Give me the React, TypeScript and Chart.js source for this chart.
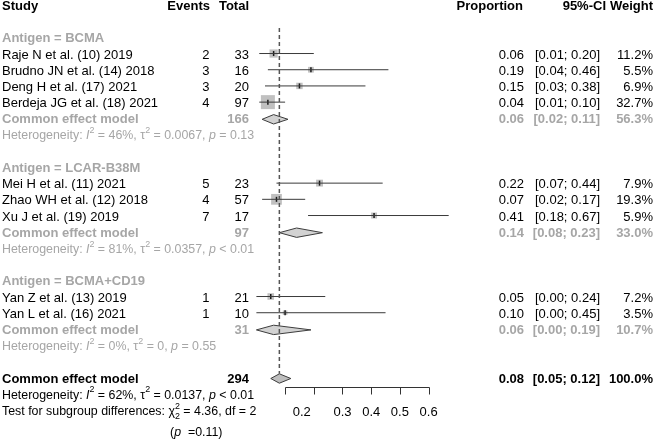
import React, { useEffect, useRef } from "react";
import { Chart, registerables } from "chart.js";

Chart.register(...registerables);

// ---------------- data ----------------
const studies = [
  "Raje N et al. (10) 2019",
  "Brudno JN et al. (14) 2018",
  "Deng H et al. (17) 2021",
  "Berdeja JG et al. (18) 2021",
  "Mei H et al. (11) 2021",
  "Zhao WH et al. (12) 2018",
  "Xu J et al. (19) 2019",
  "Yan Z et al. (13) 2019",
  "Yan L et al. (16) 2021",
];
const studyGroup = [0, 0, 0, 0, 1, 1, 1, 2, 2];
const events = [2, 3, 3, 4, 5, 4, 7, 1, 1];
const totals = [33, 16, 20, 97, 23, 57, 17, 21, 10];
const proportions = [0.06, 0.19, 0.15, 0.04, 0.22, 0.07, 0.41, 0.05, 0.1];
const ciLower = [0.01, 0.04, 0.03, 0.01, 0.07, 0.02, 0.18, 0.0, 0.0];
const ciUpper = [0.2, 0.46, 0.38, 0.1, 0.44, 0.17, 0.67, 0.24, 0.45];
const weights = [11.2, 5.5, 6.9, 32.7, 7.9, 19.3, 5.9, 7.2, 3.5];

const groupLabels = ["Antigen = BCMA", "Antigen = LCAR-B38M", "Antigen = BCMA+CD19"];
const groupTotals = [166, 97, 31];
const groupProp = [0.06, 0.14, 0.06];
const groupLower = [0.02, 0.08, 0.0];
const groupUpper = [0.11, 0.23, 0.19];
const groupWeight = [56.3, 33.0, 10.7];
const groupI2 = ["46%", "81%", "0%"];
const groupTau2 = ["0.0067", "0.0357", "0"];
const groupP = ["= 0.13", "< 0.01", "= 0.55"];

const overallTotal = 294;
const overallProp = 0.08;
const overallLower = 0.05;
const overallUpper = 0.12;
const overallWeight = 100.0;
const overallI2 = "62%";
const overallTau2 = "0.0137";
const overallP = "< 0.01";
const subgroupChi2 = "4.36";
const subgroupDf = "2";
const subgroupP = "0.11";

const axisTicks = [0.1, 0.2, 0.3, 0.4, 0.5, 0.6];
const axisLabels = ["0.2", "0.3", "0.4", "0.5", "0.6"];
const axisLabelValues = [0.158, 0.3, 0.4, 0.5, 0.6];

// ---------------- layout ----------------
const W = 655;
const H = 441;
const ROW_H = 16.2;
const ROW0 = 5.9;
const PX_PER_UNIT = 287;
const X_ZERO = 256.4;

const FONT = '"Liberation Sans", Arial, Helvetica, sans-serif';
const BLACK = "#000000";
const GRAY = "#a6a6a6";

// rows
const studyRow: number[] = [];
const groupRow: number[] = [];
const groupCommonRow: number[] = [];
const groupHetRow: number[] = [];
let r = 2;
for (let g = 0; g < groupLabels.length; g++) {
  groupRow[g] = r++;
  for (let i = 0; i < studies.length; i++) {
    if (studyGroup[i] === g) studyRow[i] = r++;
  }
  groupCommonRow[g] = r++;
  groupHetRow[g] = r++;
  r++;
}
const overallRow = r;
const overallHetRow = r + 1;
const testRow = r + 2;
const testPRow = r + 3.3;
const axisRow = r + 0.5;
const DIAMOND_HALF = 0.29;

const f2 = (v: number) => v.toFixed(2);
const ci = (lo: number, hi: number) => `[${f2(lo)}; ${f2(hi)}]`;
const pct = (w: number) => `${w.toFixed(1)}%`;

type Seg = { t: string; i?: boolean; b?: boolean; sup?: boolean; sub?: boolean; noAdv?: boolean };

function hetSegs(i2: string, tau2: string, p: string): Seg[] {
  return [
    { t: "Heterogeneity: " },
    { t: "I", i: true },
    { t: "2", sup: true },
    { t: ` = ${i2}, ` },
    { t: "\u03C4" },
    { t: "2", sup: true },
    { t: ` = ${tau2}, ` },
    { t: "p", i: true },
    { t: ` ${p}` },
  ];
}

function drawRich(ctx: CanvasRenderingContext2D, segs: Seg[], x: number, y: number, size: number, color: string) {
  let cx = x;
  ctx.fillStyle = color;
  ctx.textAlign = "left";
  ctx.textBaseline = "middle";
  for (const s of segs) {
    const small = s.sup || s.sub;
    const fs = small ? size * 0.72 : size;
    ctx.font = `${s.i ? "italic " : ""}${s.b ? "bold " : ""}${fs}px ${FONT}`;
    const dy = s.sup ? -size * 0.42 : s.sub ? size * 0.38 : 0;
    ctx.fillText(s.t, cx, y + dy);
    if (!s.noAdv) cx += ctx.measureText(s.t).width;
  }
}

function text(
  ctx: CanvasRenderingContext2D,
  s: string,
  x: number,
  y: number,
  align: CanvasTextAlign,
  bold: boolean,
  color: string,
  size = 13
) {
  ctx.font = `${bold ? "bold " : ""}${size}px ${FONT}`;
  ctx.fillStyle = color;
  ctx.textAlign = align;
  ctx.textBaseline = "middle";
  ctx.fillText(s, x, y);
}

const COL_STUDY = 2;
const COL_EVENTS = 209.5;
const COL_TOTAL = 249;
const COL_PROP = 524;
const COL_CI = 600;
const COL_CI_HEAD = 606;
const COL_W = 653;

const forestPlugin = {
  id: "forestText",
  afterDatasetsDraw(chart: any) {
    const ctx: CanvasRenderingContext2D = chart.ctx;
    const xs = chart.scales.x;
    const ys = chart.scales.y;
    const Y = (row: number) => ys.getPixelForValue(row) + 0.5;
    ctx.save();

    // header
    const hy = Y(0);
    text(ctx, "Study", COL_STUDY, hy, "left", true, BLACK);
    text(ctx, "Events", COL_EVENTS + 0.5, hy, "right", true, BLACK);
    text(ctx, "Total", COL_TOTAL, hy, "right", true, BLACK);
    text(ctx, "Proportion", COL_PROP - 1, hy, "right", true, BLACK);
    text(ctx, "95%-CI", COL_CI_HEAD, hy, "right", true, BLACK);
    text(ctx, "Weight", COL_W, hy, "right", true, BLACK);

    // groups
    for (let g = 0; g < groupLabels.length; g++) {
      text(ctx, groupLabels[g], COL_STUDY, Y(groupRow[g]), "left", true, GRAY);
      const cy = Y(groupCommonRow[g]);
      text(ctx, "Common effect model", COL_STUDY, cy, "left", true, GRAY);
      text(ctx, String(groupTotals[g]), COL_TOTAL, cy, "right", true, GRAY);
      text(ctx, f2(groupProp[g]), COL_PROP, cy, "right", true, GRAY);
      text(ctx, ci(groupLower[g], groupUpper[g]), COL_CI, cy, "right", true, GRAY);
      text(ctx, pct(groupWeight[g]), COL_W, cy, "right", true, GRAY);
      drawRich(ctx, hetSegs(groupI2[g], groupTau2[g], groupP[g]), COL_STUDY, Y(groupHetRow[g]), 12.4, GRAY);
    }

    // studies
    for (let i = 0; i < studies.length; i++) {
      const y = Y(studyRow[i]);
      text(ctx, studies[i], COL_STUDY, y, "left", false, BLACK);
      text(ctx, String(events[i]), COL_EVENTS, y, "right", false, BLACK);
      text(ctx, String(totals[i]), COL_TOTAL, y, "right", false, BLACK);
      text(ctx, f2(proportions[i]), COL_PROP, y, "right", false, BLACK);
      text(ctx, ci(ciLower[i], ciUpper[i]), COL_CI, y, "right", false, BLACK);
      text(ctx, pct(weights[i]), COL_W, y, "right", false, BLACK);
    }

    // overall
    const oy = Y(overallRow);
    text(ctx, "Common effect model", COL_STUDY, oy, "left", true, BLACK);
    text(ctx, String(overallTotal), COL_TOTAL, oy, "right", true, BLACK);
    text(ctx, f2(overallProp), COL_PROP, oy, "right", true, BLACK);
    text(ctx, ci(overallLower, overallUpper), COL_CI, oy, "right", true, BLACK);
    text(ctx, pct(overallWeight), COL_W, oy, "right", true, BLACK);
    drawRich(ctx, hetSegs(overallI2, overallTau2, overallP), COL_STUDY, Y(overallHetRow), 12.4, BLACK);
    drawRich(
      ctx,
      [
        { t: "Test for subgroup differences: " },
        { t: "\u03C7" },
        { t: subgroupDf, sub: true, noAdv: true },
        { t: "2", sup: true },
        { t: ` = ${subgroupChi2}, df = ${subgroupDf}` },
      ],
      COL_STUDY,
      Y(testRow),
      12.4,
      BLACK
    );
    drawRich(
      ctx,
      [{ t: "(" }, { t: "p", i: true }, { t: `  =${subgroupP})` }],
      170,
      Y(testPRow),
      12.4,
      BLACK
    );

    // x axis
    const ay = ys.getPixelForValue(axisRow);
    ctx.strokeStyle = "#333333";
    ctx.lineWidth = 1;
    ctx.beginPath();
    const x0 = Math.round(xs.getPixelForValue(axisTicks[0])) + 0.5;
    const x1 = Math.round(xs.getPixelForValue(axisTicks[axisTicks.length - 1])) + 0.5;
    const ayr = Math.round(ay) + 0.5;
    ctx.moveTo(x0, ayr);
    ctx.lineTo(x1, ayr);
    for (const t of axisTicks) {
      const tx = Math.round(xs.getPixelForValue(t)) + 0.5;
      ctx.moveTo(tx, ayr);
      ctx.lineTo(tx, ayr + 7);
    }
    ctx.stroke();
    for (let k = 0; k < axisLabels.length; k++) {
      text(ctx, axisLabels[k], xs.getPixelForValue(axisLabelValues[k]), ay + 26, "center", false, BLACK, 13);
    }
    ctx.restore();
  },
};

function diamond(est: number, lo: number, hi: number, row: number) {
  return [
    { x: lo, y: row },
    { x: est, y: row - DIAMOND_HALF },
    { x: hi, y: row },
    { x: est, y: row + DIAMOND_HALF },
    { x: lo, y: row },
  ];
}

export default function App() {
  const ref = useRef<HTMLCanvasElement | null>(null);
  useEffect(() => {
    document.body.style.margin = "0";
    const canvas = ref.current;
    if (!canvas) return;
    const datasets: any[] = [];

    // reference line (dashed)
    datasets.push({
      type: "line",
      data: [
        { x: overallProp, y: 1.36 },
        { x: overallProp, y: overallRow - DIAMOND_HALF },
      ],
      borderColor: "#555555",
      borderWidth: 1.5,
      borderDash: [4, 3],
      pointRadius: 0,
      fill: false,
      order: 0,
    });

    // diamonds
    for (let g = 0; g < groupLabels.length; g++) {
      datasets.push({
        type: "line",
        data: diamond(groupProp[g], groupLower[g], groupUpper[g], groupCommonRow[g]),
        borderColor: "#3c3c3c",
        backgroundColor: "#d2d2d2",
        borderWidth: 1,
        pointRadius: 0,
        fill: "shape",
        order: 1,
      });
    }
    datasets.push({
      type: "line",
      data: diamond(overallProp, overallLower, overallUpper, overallRow),
      borderColor: "#3c3c3c",
      backgroundColor: "#bebebe",
      borderWidth: 1,
      pointRadius: 0,
      fill: "shape",
      order: 1,
    });

    // CI lines
    for (let i = 0; i < studies.length; i++) {
      datasets.push({
        type: "line",
        data: [
          { x: ciLower[i], y: studyRow[i] - 0.06 },
          { x: ciUpper[i], y: studyRow[i] - 0.06 },
        ],
        borderColor: "#3a3a3a",
        borderWidth: 1,
        pointRadius: 0,
        fill: false,
        order: 2,
      });
    }

    // estimate tick
    datasets.push({
      type: "scatter",
      data: proportions.map((p, i) => ({ x: p, y: studyRow[i] - 0.06 })),
      pointStyle: "line",
      pointRotation: 90,
      pointRadius: 2.5,
      pointBorderColor: "#1a1a1a",
      pointBorderWidth: 1.5,
      order: 3,
    });

    // weight squares
    datasets.push({
      type: "scatter",
      data: proportions.map((p, i) => ({ x: p, y: studyRow[i] - 0.06 })),
      pointStyle: "rect",
      pointRadius: weights.map((w) => (2.45 * Math.sqrt(w)) / Math.SQRT2),
      pointBackgroundColor: "#c0c0c0",
      pointBorderWidth: 0,
      pointBorderColor: "rgba(0,0,0,0)",
      order: 4,
    });

    const yMin = -ROW0 / ROW_H;
    const yMax = yMin + H / ROW_H;
    const xMin = -X_ZERO / PX_PER_UNIT;
    const xMax = (W - X_ZERO) / PX_PER_UNIT;

    const chart = new Chart(canvas, {
      type: "scatter",
      data: { datasets },
      options: {
        animation: false,
        responsive: false,
        devicePixelRatio: 1,
        events: [],
        layout: { padding: 0, autoPadding: false },
        scales: {
          x: { type: "linear", min: xMin, max: xMax, display: false },
          y: { type: "linear", min: yMin, max: yMax, reverse: true, display: false },
        },
        plugins: {
          legend: { display: false },
          tooltip: { enabled: false },
        },
      } as any,
      plugins: [forestPlugin],
    });
    return () => chart.destroy();
  }, []);

  return (
    <div style={{ position: "fixed", left: 0, top: 0, width: W, height: H, background: "#ffffff" }}>
      <canvas ref={ref} width={W} height={H} style={{ width: W, height: H, display: "block" }} />
    </div>
  );
}
